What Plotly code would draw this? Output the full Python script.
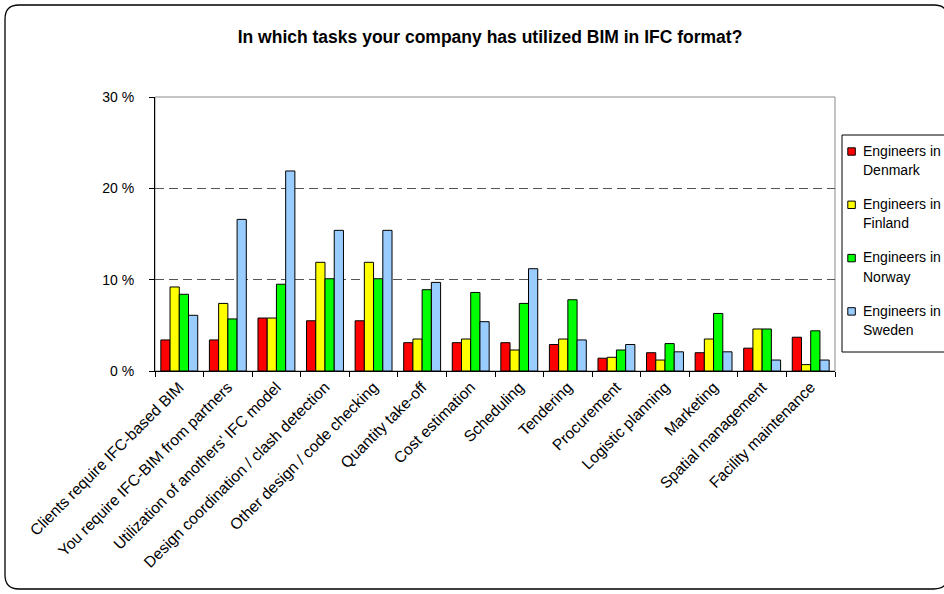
import plotly.graph_objects as go

categories = [
    "Clients require IFC-based BIM",
    "You require IFC-BIM from partners",
    "Utilization of anothers' IFC model",
    "Design coordination / clash detection",
    "Other design / code checking",
    "Quantity take-off",
    "Cost estimation",
    "Scheduling",
    "Tendering",
    "Procurement",
    "Logistic planning",
    "Marketing",
    "Spatial management",
    "Facility maintenance",
]
denmark = [3.4, 3.4, 5.8, 5.5, 5.5, 3.1, 3.1, 3.1, 2.9, 1.4, 2.0, 2.0, 2.5, 3.7]
finland = [9.2, 7.4, 5.8, 11.9, 11.9, 3.5, 3.5, 2.3, 3.5, 1.5, 1.2, 3.5, 4.6, 0.7]
norway = [8.4, 5.7, 9.5, 10.1, 10.1, 8.9, 8.6, 7.4, 7.8, 2.3, 3.0, 6.3, 4.6, 4.4]
sweden = [6.1, 16.6, 21.9, 15.4, 15.4, 9.7, 5.4, 11.2, 3.4, 2.9, 2.1, 2.1, 1.2, 1.2]
series_names = [("Engineers in", "Denmark"), ("Engineers in", "Finland"),
                ("Engineers in", "Norway"), ("Engineers in", "Sweden")]
series_values = [denmark, finland, norway, sweden]
y_tickvals = [0, 10, 20, 30]
y_ticktext = ["0 %", "10 %", "20 %", "30 %"]
title_text = "In which tasks your company has utilized BIM in IFC format?"

colors = ["#FF0000", "#FFFF00", "#00FF00", "#99CCFF"]
FONT = "Arial, 'Liberation Sans', sans-serif"

W, H = 944, 594
L, R, T, B = 155, 835, 97, 371


def px(x):
    return (x - L) / (R - L)


def py(y):
    return (B - y) / (B - T)


fig = go.Figure()
for (l1, l2), vals, c in zip(series_names, series_values, colors):
    fig.add_trace(go.Bar(
        x=categories, y=vals, name=f"{l1} {l2}",
        marker=dict(color=c, line=dict(color="black", width=1)),
        showlegend=False,
    ))

shapes = []
# outer rounded border
x0, y0, x1, y1, r = 5, 5, 948, 589, 14
path = (f"M {px(x0 + r)},{py(y0)} L {px(x1 - r)},{py(y0)} "
        f"Q {px(x1)},{py(y0)} {px(x1)},{py(y0 + r)} "
        f"L {px(x1)},{py(y1 - r)} Q {px(x1)},{py(y1)} {px(x1 - r)},{py(y1)} "
        f"L {px(x0 + r)},{py(y1)} Q {px(x0)},{py(y1)} {px(x0)},{py(y1 - r)} "
        f"L {px(x0)},{py(y0 + r)} Q {px(x0)},{py(y0)} {px(x0 + r)},{py(y0)} Z")
shapes.append(dict(type="path", path=path, xref="paper", yref="paper",
                   line=dict(color="black", width=1.3), layer="below"))
# plot area border (gray)
shapes.append(dict(type="rect", xref="paper", yref="paper", x0=0, y0=0, x1=1, y1=1,
                   line=dict(color="#8a8a8a", width=1), layer="below"))
# legend box
shapes.append(dict(type="rect", xref="paper", yref="paper",
                   x0=px(842), x1=px(970), y0=py(352), y1=py(135),
                   line=dict(color="black", width=1), fillcolor="white"))

annotations = []
for i, ((l1, l2), c) in enumerate(zip(series_names, colors)):
    cy = 151.5 + i * 53.3
    shapes.append(dict(type="rect", xref="paper", yref="paper",
                       x0=px(847.8), x1=px(855.3), y0=py(cy + 3.7), y1=py(cy - 3.7),
                       fillcolor=c, line=dict(color="black", width=1)))
    annotations.append(dict(text=l1, xref="paper", yref="paper", x=px(861), y=py(cy - 0.8),
                            xanchor="left", yanchor="middle", showarrow=False,
                            font=dict(family=FONT, size=14, color="black")))
    annotations.append(dict(text=l2, xref="paper", yref="paper", x=px(861), y=py(cy + 18.5),
                            xanchor="left", yanchor="middle", showarrow=False,
                            font=dict(family=FONT, size=14, color="black")))

fig.update_layout(
    width=W, height=H,
    margin=dict(l=L, r=W - R, t=T, b=H - B, autoexpand=False),
    paper_bgcolor="white", plot_bgcolor="white",
    barmode="group", bargap=0.24, bargroupgap=0,
    title=dict(text=f"<b>{title_text}</b>", xref="paper", yref="container",
               x=px(490), y=1 - 37 / H, xanchor="center", yanchor="middle",
               font=dict(family=FONT, size=17.5, color="black")),
    font=dict(family=FONT, color="black"),
    shapes=shapes, annotations=annotations,
    xaxis=dict(type="category", showline=True, linecolor="black", linewidth=1,
               ticks="outside", tickson="boundaries", ticklen=5, tickcolor="black",
               tickangle=-45, tickfont=dict(family=FONT, size=15.6, color="black"),
               showgrid=False, zeroline=False),
    yaxis=dict(range=[0, 30], tickvals=y_tickvals, ticktext=y_ticktext,
               showline=True, linecolor="black", linewidth=1,
               ticks="outside", ticklen=5, tickcolor="black",
               ticklabelstandoff=12,
               tickfont=dict(family=FONT, size=14, color="black"),
               showgrid=True, gridcolor="#555555", gridwidth=1, griddash="9px,5px",
               zeroline=False),
)

fig.write_html("out.html", config={"displayModeBar": False},
               post_script="document.body.style.margin='0';document.body.style.overflow='hidden';")
